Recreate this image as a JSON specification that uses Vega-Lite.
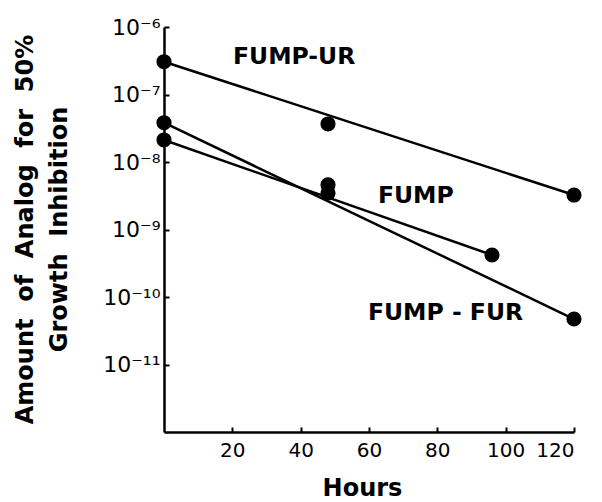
{
  "$schema": "https://vega.github.io/schema/vega-lite/v6.json",
  "width": 410,
  "height": 405,
  "autosize": "none",
  "padding": {"left": 164, "top": 27, "right": 28, "bottom": 70},
  "background": "white",
  "config": {
    "view": {"stroke": null},
    "axis": {
      "domainColor": "black",
      "domainWidth": 2.5,
      "tickColor": "black",
      "tickWidth": 2,
      "grid": false,
      "labelColor": "black",
      "titleColor": "black",
      "labelFont": "DejaVu Sans",
      "titleFont": "DejaVu Sans"
    }
  },
  "datasets": {
    "points": [
      {"series": "FUMP-UR", "hours": 0, "value": 3.06e-7},
      {"series": "FUMP-UR", "hours": 48, "value": 3.66e-8},
      {"series": "FUMP-UR", "hours": 120, "value": 3.24e-9},
      {"series": "FUMP", "hours": 0, "value": 2.12e-8},
      {"series": "FUMP", "hours": 48, "value": 4.57e-9},
      {"series": "FUMP", "hours": 96, "value": 4.19e-10},
      {"series": "FUMP-FUR", "hours": 0, "value": 3.82e-8},
      {"series": "FUMP-FUR", "hours": 48, "value": 3.47e-9},
      {"series": "FUMP-FUR", "hours": 120, "value": 4.72e-11}
    ],
    "fits": [
      {"series": "FUMP-UR", "hours": 0, "value": 3.06e-7},
      {"series": "FUMP-UR", "hours": 120, "value": 3.24e-9},
      {"series": "FUMP", "hours": 0, "value": 2.12e-8},
      {"series": "FUMP", "hours": 96, "value": 4.19e-10},
      {"series": "FUMP-FUR", "hours": 0, "value": 3.82e-8},
      {"series": "FUMP-FUR", "hours": 120, "value": 4.72e-11}
    ],
    "labels": [
      {"label": "FUMP-UR", "hours": 20.2, "value": 3.6e-7},
      {"label": "FUMP", "hours": 62.6, "value": 3.13e-9},
      {"label": "FUMP - FUR", "hours": 59.7, "value": 5.8e-11}
    ]
  },
  "layer": [
    {
      "data": {"name": "fits"},
      "mark": {"type": "line", "color": "black", "strokeWidth": 2.5},
      "encoding": {
        "x": {
          "field": "hours", "type": "quantitative",
          "scale": {"domain": [0, 120], "nice": false},
          "axis": {
            "values": [20, 40, 60, 80, 100, 120],
            "tickSize": -5,
            "labelFontSize": 20,
            "labelPadding": 13,
            "title": "Hours",
            "titleFontSize": 24,
            "titleFontWeight": "bold",
            "titleX": 198,
            "titleY": 56,
            "titleBaseline": "middle",
            "titleAlign": "center"
          }
        },
        "y": {
          "field": "value", "type": "quantitative",
          "scale": {"type": "log", "domain": [1e-12, 1e-6], "nice": false},
          "axis": {
            "values": [1e-6, 1e-7, 1e-8, 1e-9, 1e-10, 1e-11],
            "tickSize": -5,
            "labelFontSize": 22,
            "labelPadding": 9,
            "labelExpr": "'10' + (round(log(datum.value)/LN10) == -6 ? '⁻⁶' : round(log(datum.value)/LN10) == -7 ? '⁻⁷' : round(log(datum.value)/LN10) == -8 ? '⁻⁸' : round(log(datum.value)/LN10) == -9 ? '⁻⁹' : round(log(datum.value)/LN10) == -10 ? '⁻¹⁰' : '⁻¹¹')",
            "title": ["Amount\u00a0 of\u00a0 Analog\u00a0 for\u00a0 50%", "Growth\u00a0 Inhibition"],
            "titleFontSize": 24,
            "titleFontWeight": "bold",
            "titleAngle": -90,
            "titleX": -139,
            "titleY": 202,
            "titleAlign": "center",
            "titleBaseline": "middle",
            "titleLineHeight": 34
          }
        },
        "detail": {"field": "series"}
      }
    },
    {
      "data": {"name": "points"},
      "mark": {"type": "point", "filled": true, "color": "black", "opacity": 1, "size": 230},
      "encoding": {
        "x": {"field": "hours", "type": "quantitative"},
        "y": {"field": "value", "type": "quantitative"}
      }
    },
    {
      "data": {"name": "labels"},
      "mark": {"type": "text", "align": "left", "baseline": "middle", "font": "DejaVu Sans", "fontWeight": "bold", "fontSize": 23.5, "color": "black"},
      "encoding": {
        "x": {"field": "hours", "type": "quantitative"},
        "y": {"field": "value", "type": "quantitative"},
        "text": {"field": "label"}
      }
    }
  ]
}
